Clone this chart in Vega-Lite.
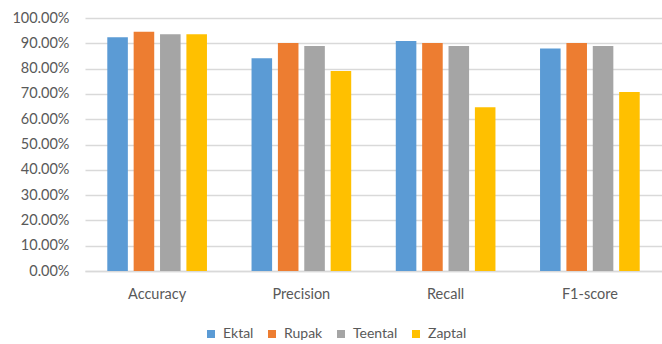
{
  "$schema": "https://vega.github.io/schema/vega-lite/v6.json",
  "width": 577,
  "height": 253,
  "autosize": "none",
  "padding": {"left": 85, "top": 18, "right": 0, "bottom": 73},
  "background": "white",
  "config": {
    "font": "Lato",
    "view": {"stroke": null},
    "axis": {"labelColor": "#595959", "labelFontSize": 14.5, "titleColor": "#595959"}
  },
  "data": {
    "values": [
      {"metric": "Accuracy", "taal": "Ektal", "score": 0.924},
      {"metric": "Accuracy", "taal": "Rupak", "score": 0.946},
      {"metric": "Accuracy", "taal": "Teental", "score": 0.936},
      {"metric": "Accuracy", "taal": "Zaptal", "score": 0.936},
      {"metric": "Precision", "taal": "Ektal", "score": 0.841},
      {"metric": "Precision", "taal": "Rupak", "score": 0.901},
      {"metric": "Precision", "taal": "Teental", "score": 0.889},
      {"metric": "Precision", "taal": "Zaptal", "score": 0.791},
      {"metric": "Recall", "taal": "Ektal", "score": 0.909},
      {"metric": "Recall", "taal": "Rupak", "score": 0.901},
      {"metric": "Recall", "taal": "Teental", "score": 0.889},
      {"metric": "Recall", "taal": "Zaptal", "score": 0.647},
      {"metric": "F1-score", "taal": "Ektal", "score": 0.879},
      {"metric": "F1-score", "taal": "Rupak", "score": 0.901},
      {"metric": "F1-score", "taal": "Teental", "score": 0.889},
      {"metric": "F1-score", "taal": "Zaptal", "score": 0.708}
    ]
  },
  "mark": {"type": "bar"},
  "encoding": {
    "x": {
      "field": "metric",
      "type": "nominal",
      "sort": ["Accuracy", "Precision", "Recall", "F1-score"],
      "scale": {"paddingInner": 0.309, "paddingOuter": 0.1545},
      "axis": {
        "title": null,
        "labelAngle": 0,
        "ticks": false,
        "domain": true,
        "domainColor": "#d9d9d9",
        "domainWidth": 1.5,
        "labelPadding": 16,
        "grid": false
      }
    },
    "xOffset": {
      "field": "taal",
      "type": "nominal",
      "sort": ["Ektal", "Rupak", "Teental", "Zaptal"],
      "scale": {"paddingInner": 0.22, "paddingOuter": 0}
    },
    "y": {
      "field": "score",
      "type": "quantitative",
      "scale": {"domain": [0, 1], "nice": false},
      "axis": {
        "title": null,
        "format": ".2%",
        "values": [0, 0.1, 0.2, 0.3, 0.4, 0.5, 0.6, 0.7, 0.8, 0.9, 1.0],
        "labelOverlap": false,
        "ticks": false,
        "domain": false,
        "grid": true,
        "gridColor": "#d9d9d9",
        "gridWidth": 1.5,
        "labelPadding": 16
      }
    },
    "color": {
      "field": "taal",
      "type": "nominal",
      "sort": ["Ektal", "Rupak", "Teental", "Zaptal"],
      "scale": {
        "domain": ["Ektal", "Rupak", "Teental", "Zaptal"],
        "range": ["#5B9BD5", "#ED7D31", "#A5A5A5", "#FFC000"]
      },
      "legend": {
        "title": null,
        "orient": "none",
        "direction": "horizontal",
        "legendX": 119,
        "legendY": 309,
        "symbolType": "square",
        "symbolSize": 64,
        "symbolStrokeWidth": 0,
        "labelFontSize": 14,
        "labelColor": "#595959",
        "labelOffset": 5,
        "columnPadding": 11
      }
    }
  }
}
